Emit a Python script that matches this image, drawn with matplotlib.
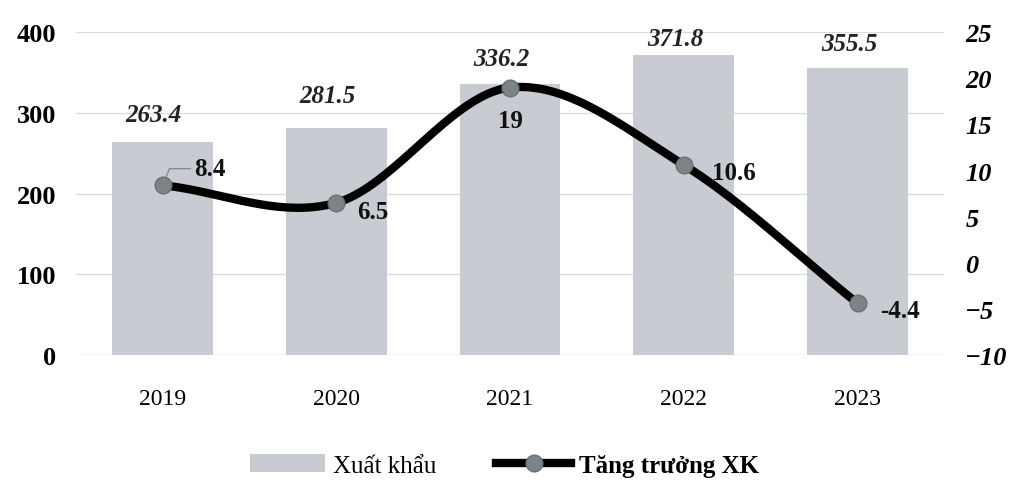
import numpy as np
import matplotlib
matplotlib.use("Agg")
from matplotlib import pyplot as plt
from matplotlib.patches import Patch
from matplotlib.lines import Line2D

years = ["2019", "2020", "2021", "2022", "2023"]
export_vals = [263.4, 281.5, 336.2, 371.8, 355.5]
growth_vals = [8.4, 6.5, 19, 10.6, -4.4]
growth_labels = ["8.4", "6.5", "19", "10.6", "-4.4"]

plt.rcParams['font.family'] = ['Liberation Serif', 'DejaVu Serif']

fig = plt.figure(figsize=(10.09, 4.81), dpi=100)
ax = fig.add_axes([0.075, 0.26, 0.861, 0.671])
ax2 = ax.twinx()

x = np.arange(len(years))
bar_color = '#c8ccd2'
ax.bar(x, export_vals, width=0.58, color=bar_color, zorder=2, label='Xuất khẩu')
ax.set_ylim(0, 400)
ax.set_xlim(-0.5, len(years) - 0.5)
ax.set_yticks([0, 100, 200, 300, 400])
ax.yaxis.grid(True, color='#dadcde', lw=1)
ax.set_axisbelow(True)
for s in ax.spines.values():
    s.set_visible(False)
for s in ax2.spines.values():
    s.set_visible(False)
ax.tick_params(axis='y', length=0, labelsize=19, pad=14)
ax.tick_params(axis='x', length=0, labelsize=17, pad=24)
for t in ax.get_yticklabels():
    t.set_fontweight('bold')
ax.set_xticks(x)
ax.set_xticklabels(years)

# value labels sit at slightly different heights above the bars, as in the source
label_gap = [35, 40, 31, 20, 30]
for xi, v, g in zip(x, export_vals, label_gap):
    ax.text(xi - 0.05, v + g, f"{v}", ha='center', va='center', fontsize=18,
            fontstyle='italic', fontweight='bold', color='#222222')

# smooth line (Catmull-Rom through the points, like spreadsheet smoothing)
px = x.astype(float)
py = np.array(growth_vals, dtype=float)
ext_x = np.concatenate([[2 * px[0] - px[1]], px, [2 * px[-1] - px[-2]]])
ext_y = np.concatenate([[2 * py[0] - py[1]], py, [2 * py[-1] - py[-2]]])
sx, sy = [], []
t = np.linspace(0, 1, 40)
for i in range(1, len(ext_x) - 2):
    p0, p1, p2, p3 = [np.array([ext_x[j], ext_y[j]]) for j in range(i - 1, i + 3)]
    m1 = (p2 - p0) / 2
    m2 = (p3 - p1) / 2
    h00 = 2 * t**3 - 3 * t**2 + 1
    h10 = t**3 - 2 * t**2 + t
    h01 = -2 * t**3 + 3 * t**2
    h11 = t**3 - t**2
    pts = np.outer(h00, p1) + np.outer(h10, m1) + np.outer(h01, p2) + np.outer(h11, m2)
    sx.extend(pts[:, 0])
    sy.extend(pts[:, 1])
ax2.plot(sx, sy, color='black', lw=6, solid_capstyle='round', zorder=3)
ax2.plot(px, py, 'o', color='#7d8488', markersize=12, markeredgecolor='#6a7074', zorder=4)
ax2.set_ylim(-10, 25)
ax2.set_yticks(np.arange(-10, 26, 5))
ax2.tick_params(axis='y', length=0, labelsize=19, pad=15)
for tl in ax2.get_yticklabels():
    tl.set_fontweight('bold')
    tl.set_fontstyle('italic')

offsets = [(0.18, 1.8, 'left'), (0.12, -0.9, 'left'), (0.0, -3.6, 'center'),
           (0.16, -0.8, 'left'), (0.13, -0.8, 'left')]
for xi, v, lab, (dx, dy, ha) in zip(px, py, growth_labels, offsets):
    ax2.text(xi + dx, v + dy, lab, ha=ha, va='center', fontsize=18,
             fontweight='bold', color='#111111', zorder=5)
# leader line for first label
ax2.plot([px[0] + 0.02, px[0] + 0.04, px[0] + 0.16], [py[0] + 0.9, py[0] + 1.8, py[0] + 1.8],
         color='#888888', lw=1, zorder=3)

handles = [Patch(facecolor=bar_color, label='Xuất khẩu'),
           Line2D([0], [0], color='black', lw=6, marker='o', markersize=12,
                  markerfacecolor='#7d8488', markeredgecolor='#6a7074', label='Tăng trưởng XK')]
leg = fig.legend(handles=handles, loc='lower center', bbox_to_anchor=(0.5, -0.04), ncol=2,
                 frameon=False, fontsize=18, handlelength=3.0, handleheight=0.7,
                 columnspacing=2.4, handletextpad=0.3)
leg.get_texts()[1].set_fontweight('bold')

fig.savefig('out.png', dpi=100)
